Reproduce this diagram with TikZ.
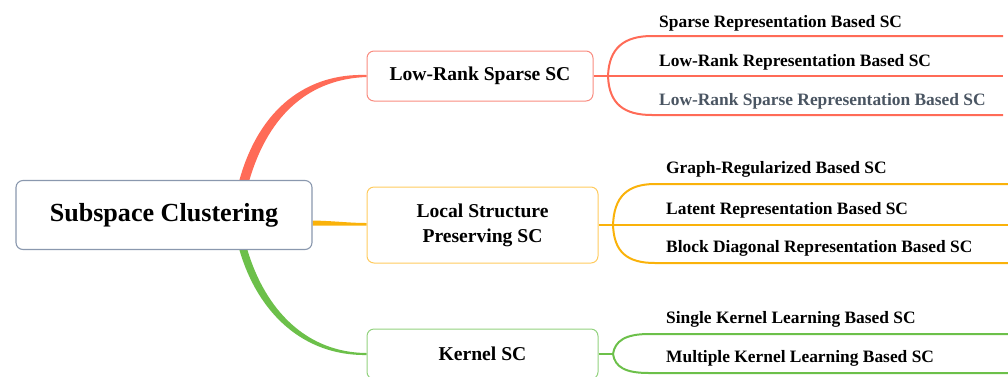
\documentclass[tikz,border=0pt]{standalone}
\usepackage{fontspec}
\setmainfont{Liberation Serif}
\usetikzlibrary{calc,backgrounds}

\definecolor{redline}{HTML}{FF6B57}
\definecolor{redbox}{HTML}{F98C80}
\definecolor{orline}{HTML}{FAB20A}
\definecolor{orbox}{HTML}{FFCB5E}
\definecolor{grline}{HTML}{6CC04A}
\definecolor{grbox}{HTML}{92D27E}
\definecolor{rootbox}{HTML}{8A98AE}
\definecolor{subtext}{HTML}{4A5562}

\tikzset{
  rootnode/.style={draw=rootbox, line width=1.1pt, rounded corners=7pt, fill=white,
    inner sep=0pt, font=\bfseries\fontsize{26.1}{30}\selectfont},
  topicnode/.style={line width=1pt, rounded corners=7pt, fill=white, inner sep=0pt,
    align=center, font=\bfseries\fontsize{19.6}{25}\selectfont},
  leafnode/.style={inner sep=0pt, anchor=base west, font=\bfseries\fontsize{17.4}{20}\selectfont},
  branchline/.style={line width=2pt},
}

\begin{document}
\begin{tikzpicture}[x=1pt,y=-1pt]
\useasboundingbox (0,0) rectangle (1008,376);

% central topic and the three main topics
\node[rootnode, minimum width=296, minimum height=69] (root) at (164,215) {Subspace Clustering};
\node[topicnode, draw=redbox, minimum width=226, minimum height=50] (lr) at (480,76) {Low-Rank Sparse SC};
\node[topicnode, draw=orbox, minimum width=231, minimum height=76] (ls) at (482.5,225) {Local Structure\\Preserving SC};
\node[topicnode, draw=grbox, minimum width=231, minimum height=50] (ks) at (482.5,354) {Kernel SC};

% leaf labels
\node[leafnode] (r1) at (659,27) {Sparse Representation Based SC};
\node[leafnode] (r2) at (659,66) {Low-Rank Representation Based SC};
\node[leafnode, text=subtext] (r3) at (659,105) {Low-Rank Sparse Representation Based SC};
\node[leafnode] (o1) at (666,173) {Graph-Regularized Based SC};
\node[leafnode] (o2) at (666,214) {Latent Representation Based SC};
\node[leafnode] (o3) at (666,252) {Block Diagonal Representation Based SC};
\node[leafnode] (g1) at (666,323) {Single Kernel Learning Based SC};
\node[leafnode] (g2) at (666,362) {Multiple Kernel Learning Based SC};

% anchor points of the tapered main branches
\coordinate (rA) at ($(root.north west)+(224,0)$);
\coordinate (rB) at ($(root.north west)+(234,0)$);
\coordinate (gA) at ($(root.south west)+(224,0)$);
\coordinate (gB) at ($(root.south west)+(232,0)$);
\coordinate (oA) at ($(root.east)+(0,5.5)$);
\coordinate (oB) at ($(root.east)+(0,10.5)$);
\coordinate (lrA) at ($(lr.west)+(0,-1)$);
\coordinate (lrB) at ($(lr.west)+(0,1)$);
\coordinate (lsA) at ($(ls.west)+(0,-2)$);
\coordinate (lsB) at ($(ls.west)+(0,0.5)$);
\coordinate (ksA) at ($(ks.west)+(0,1)$);
\coordinate (ksB) at ($(ks.west)+(0,-1)$);

% branch points and line ends of the sub-topics
\coordinate (rb) at (608,76);
\coordinate (r1e) at (1003,36);
\coordinate (r2e) at (1003,76);
\coordinate (r3e) at (1003,115);
\coordinate (ob) at (613,225);
\coordinate (o1e) at (1008,184);
\coordinate (o2e) at (1008,225);
\coordinate (o3e) at (1008,263);
\coordinate (gb) at (613,354);
\coordinate (g1e) at (1008,334);
\coordinate (g2e) at (1008,373);

\begin{scope}[on background layer]
  % tapered main branches
  \fill[redline] (rA) .. controls ($(rA)+(20,-72)$) and ($(lrA)+(-59,-2)$) .. (lrA)
    -- (lrB) .. controls ($(lrB)+(-55,2)$) and ($(rB)+(20,-68)$) .. (rB) -- cycle;
  \fill[orline] (oA) .. controls ($(oA)+(23,0.5)$) and ($(lsA)+(-17,0)$) .. (lsA)
    -- (lsB) .. controls ($(lsB)+(-17,0)$) and ($(oB)+(23,0)$) .. (oB) -- cycle;
  \fill[grline] (gA) .. controls ($(gA)+(18,62)$) and ($(ksA)+(-64,1)$) .. (ksA)
    -- (ksB) .. controls ($(ksB)+(-60,-0.5)$) and ($(gB)+(18,60)$) .. (gB) -- cycle;

  % sub-topic branches
  \begin{scope}[branchline, draw=redline]
    \draw (lr.east) -- (rb);
    \draw (rb) .. controls ($(rb)+(1,-28)$) and ($(rb)+(16,-40)$) .. ($(rb)+(44,-40)$) -- (r1e);
    \draw (rb) -- (r2e);
    \draw (rb) .. controls ($(rb)+(1,28)$) and ($(rb)+(16,39)$) .. ($(rb)+(44,39)$) -- (r3e);
  \end{scope}
  \begin{scope}[branchline, draw=orline]
    \draw (ls.east) -- (ob);
    \draw (ob) .. controls ($(ob)+(1,-28)$) and ($(ob)+(14,-41)$) .. ($(ob)+(42,-41)$) -- (o1e);
    \draw (ob) -- (o2e);
    \draw (ob) .. controls ($(ob)+(1,27)$) and ($(ob)+(14,38)$) .. ($(ob)+(42,38)$) -- (o3e);
  \end{scope}
  \begin{scope}[branchline, draw=grline]
    \draw (ks.east) -- (gb);
    \draw (gb) .. controls ($(gb)+(2,-13)$) and ($(gb)+(12,-20)$) .. ($(gb)+(36,-20)$) -- (g1e);
    \draw (gb) .. controls ($(gb)+(2,13)$) and ($(gb)+(12,19)$) .. ($(gb)+(36,19)$) -- (g2e);
  \end{scope}
\end{scope}
\end{tikzpicture}
\end{document}
